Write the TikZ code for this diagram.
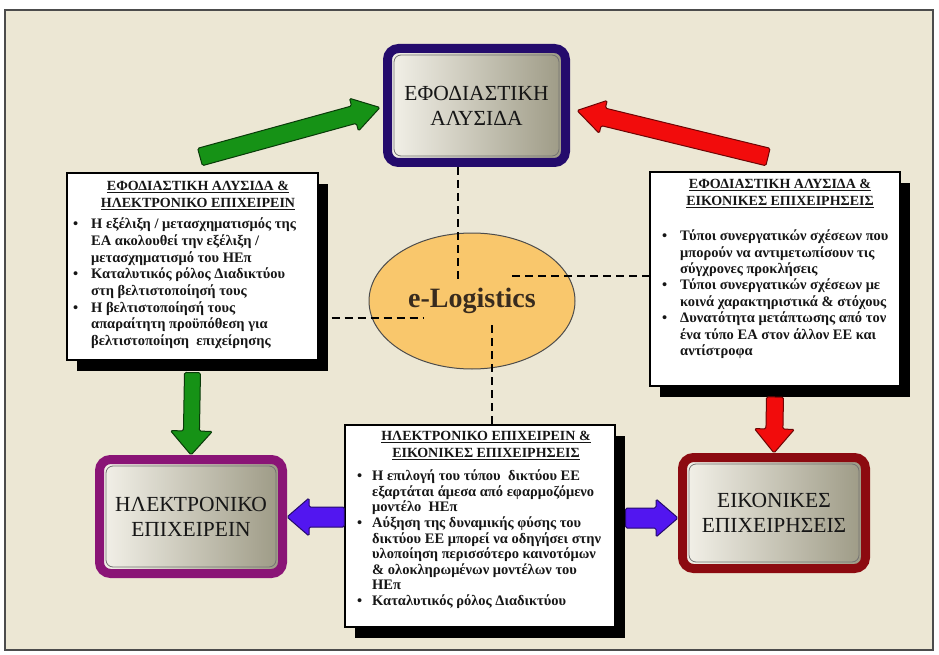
\documentclass[tikz,border=0pt]{standalone}
\usepackage{fontspec}
\setmainfont{Liberation Serif}
\usetikzlibrary{calc,shapes.geometric,shadows}

\definecolor{paper}{HTML}{ECE7D4}
\definecolor{ink}{HTML}{161616}
\definecolor{navyframe}{HTML}{240B6C}
\definecolor{plumframe}{HTML}{8A1476}
\definecolor{wineframe}{HTML}{8C0A10}
\definecolor{grn}{HTML}{169216}
\definecolor{rd}{HTML}{F20C0C}
\definecolor{blu}{HTML}{5216F0}
\definecolor{egg}{HTML}{F9C76C}
\definecolor{panelhi}{HTML}{F4F2EA}
\definecolor{panello}{HTML}{9C9984}

% thick block arrow from #1 (tail) to #2 (tip):
% #3 half shaft width, #4 half head width, #5 head length, #6 style
\newcommand\fatarrow[6]{%
  \coordinate (fa-base) at ($(#2)!#5!(#1)$);
  \filldraw[#6]
    ($(#1)!#3!90:(#2)$) -- ($(fa-base)!#3!90:(#2)$) --
    ($(fa-base)!#4!90:(#2)$) -- (#2) --
    ($(fa-base)!#4!-90:(#2)$) -- ($(fa-base)!#3!-90:(#2)$) --
    ($(#1)!#3!-90:(#2)$) -- cycle;
}

\begin{document}
\begin{tikzpicture}[x=1pt,y=-1pt,
  mainbox/.style={rounded corners=11pt, line width=9pt, left color=panelhi,
    right color=panello, align=center, text=ink,
    font=\fontsize{21.5}{25}\selectfont},
  bevel/.style={draw=black!55, line width=0.8pt, rounded corners=7pt},
  textbox/.style={draw=black, line width=1.2pt, fill=white, inner sep=0pt,
    general shadow={fill=black, shadow xshift=10pt, shadow yshift=-11pt}},
  boxtitle/.style={anchor=north, align=center, inner sep=0pt, text=ink,
    font=\fontsize{14}{16.8}\selectfont\bfseries},
  boxbody/.style={anchor=north west, align=left, inner sep=0pt, text=ink},
  dashline/.style={line width=2.6pt, dash pattern=on 8pt off 5pt},
  greenarrow/.style={fill=grn, draw=grn!40!black, line width=1pt, rounded corners=1.5pt},
  redarrow/.style={fill=rd, draw=rd!45!black, line width=1pt, rounded corners=1.5pt},
  bluearrow/.style={fill=blu, draw=blu!45!black, line width=1pt, rounded corners=1.5pt},
]
\newcommand\bl{\makebox[18pt][l]{•}}
\newcommand\ind{\hspace*{18pt}}
\newcommand\st{\rule{0pt}{11.5pt}}

\useasboundingbox (0,0) rectangle (939,655);
\fill[white] (0,0) rectangle (939,655);
\draw[draw=black!70, line width=1.5pt, fill=paper] (5,10) rectangle (933,650);

% central ellipse
\node[ellipse, draw=black!70, line width=1pt, fill=egg,
      minimum width=206pt, minimum height=136pt,
      font=\fontsize{28}{30}\selectfont\bfseries, text=ink!80!brown] (elog) at (472,301) {e-Logistics};

% named ends of the dashed links and free arrow tails
\coordinate (d1) at (458,280);
\coordinate (d2) at (512,276);
\coordinate (d3) at (423,318);
\coordinate (d4) at (492,325);
\coordinate (gtail) at (200,157);
\coordinate (rtail) at (768,157);

% text panels (placed first so that links can refer to them)
\node[textbox, minimum width=251pt, minimum height=187pt] (lbox) at (192.5,266.5) {};
\node[textbox, minimum width=250pt, minimum height=214pt] (rbox) at (775,279) {};
\node[textbox, minimum width=270pt, minimum height=202pt] (bbox) at (480,526) {};

% framed headings
\node[mainbox, draw=navyframe, minimum width=178pt, minimum height=114pt] (chain) at (476.5,105.5) {ΕΦΟΔΙΑΣΤΙΚΗ\\ΑΛΥΣΙΔΑ};
\node[mainbox, draw=plumframe, minimum width=183pt, minimum height=114pt] (ebiz) at (191,516.5) {ΗΛΕΚΤΡΟΝΙΚΟ\\ΕΠΙΧΕΙΡΕΙΝ};
\node[mainbox, draw=wineframe, minimum width=183pt, minimum height=111pt] (virt) at (774,513) {ΕΙΚΟΝΙΚΕΣ\\ΕΠΙΧΕΙΡΗΣΕΙΣ};

\foreach \b in {chain,ebiz,virt}
  \draw[bevel] ($(\b.north west)+(11,11)$) rectangle ($(\b.south east)+(-11,-11)$);

% dashed links to the centre
\draw[dashline] (chain.south -| d1) -- (d1);
\draw[dashline] (d2) -- (d2 -| rbox.west);
\draw[dashline] (lbox.east |- d3) -- (d3);
\draw[dashline] (d4) -- (d4 |- bbox.north);

% block arrows
\fatarrow{gtail}{$(chain.west)+(-3,2)$}{9pt}{17pt}{27pt}{greenarrow}
\fatarrow{rtail}{$(chain.east)+(7,5)$}{9pt}{17pt}{27pt}{redarrow}
\fatarrow{$(lbox.south)+(0,12)$}{ebiz.north}{8pt}{21pt}{24pt}{greenarrow}
\fatarrow{$(rbox.south |- 0,397)$}{virt.north}{8.5pt}{20pt}{24pt}{redarrow}
\fatarrow{$(bbox.west |- 0,517)$}{$(ebiz.east |- 0,517)$}{10pt}{19pt}{22pt}{bluearrow}
\fatarrow{$(bbox.east |- 0,518)+(10,0)$}{$(virt.west |- 0,518)$}{10pt}{19pt}{22pt}{bluearrow}

% panel contents
\node[boxtitle] (ltitle) at (198,179) {\st\underline{ΕΦΟΔΙΑΣΤΙΚΗ ΑΛΥΣΙΔΑ \&}\\\underline{ΗΛΕΚΤΡΟΝΙΚΟ ΕΠΙΧΕΙΡΕΙΝ}};
\node[boxbody, font=\fontsize{14.5}{16.7}\selectfont\bfseries] (lbody) at (73,217) {%
\st\bl Η εξέλιξη / μετασχηματισμός της\\
\ind ΕΑ ακολουθεί την εξέλιξη /\\
\ind μετασχηματισμό του ΗΕπ\\
\bl Καταλυτικός ρόλος Διαδικτύου\\
\ind στη βελτιστοποίησή τους\\
\bl Η βελτιστοποίησή τους\\
\ind απαραίτητη προϋπόθεση για\\
\ind βελτιστοποίηση\ \ επιχείρησης};

\node[boxtitle] (rtitle) at (780,177) {\st\underline{ΕΦΟΔΙΑΣΤΙΚΗ ΑΛΥΣΙΔΑ \&}\\\underline{ΕΙΚΟΝΙΚΕΣ ΕΠΙΧΕΙΡΗΣΕΙΣ}};
\node[boxbody, font=\fontsize{14.5}{16.4}\selectfont\bfseries] (rbody) at (662,229) {%
\st\bl Τύποι συνεργατικών σχέσεων που\\
\ind μπορούν να αντιμετωπίσουν τις\\
\ind σύγχρονες προκλήσεις\\
\bl Τύποι συνεργατικών σχέσεων με\\
\ind κοινά χαρακτηριστικά \& στόχους\\
\bl Δυνατότητα μετάπτωσης από τον\\
\ind ένα τύπο ΕΑ στον άλλον ΕΕ και\\
\ind αντίστροφα};

\node[boxtitle] (btitle) at (486,429) {\st\underline{ΗΛΕΚΤΡΟΝΙΚΟ ΕΠΙΧΕΙΡΕΙΝ \&}\\\underline{ΕΙΚΟΝΙΚΕΣ ΕΠΙΧΕΙΡΗΣΕΙΣ}};
\node[boxbody, font=\fontsize{14.5}{15.6}\selectfont\bfseries] (bbody) at (357,469) {%
\st\makebox[15pt][l]{•}Η επιλογή του τύπου\ \ δικτύου ΕΕ\\
\hspace*{15pt}εξαρτάται άμεσα από εφαρμοζόμενο\\
\hspace*{15pt}μοντέλο\ \ ΗΕπ\\
\makebox[15pt][l]{•}Αύξηση της δυναμικής φύσης του\\
\hspace*{15pt}δικτύου ΕΕ μπορεί να οδηγήσει στην\\
\hspace*{15pt}υλοποίηση περισσότερο καινοτόμων\\
\hspace*{15pt}\& ολοκληρωμένων μοντέλων του\\
\hspace*{15pt}ΗΕπ\\
\makebox[15pt][l]{•}Καταλυτικός ρόλος Διαδικτύου};
\end{tikzpicture}
\end{document}
